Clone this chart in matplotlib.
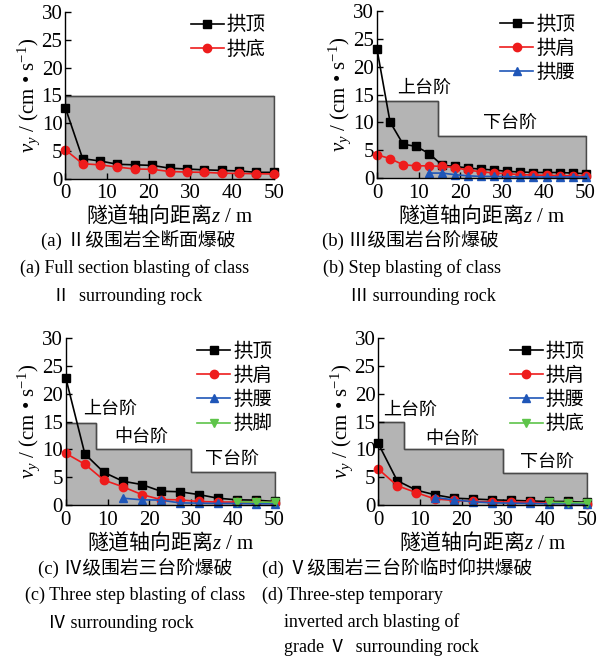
import matplotlib
matplotlib.use("Agg")
import matplotlib.pyplot as plt

plt.rcParams['font.family'] = ['Liberation Serif', 'Noto Sans CJK SC', 'DejaVu Sans']
# math text: serif for latin, sans CJK for the Chinese part of the x label
plt.rcParams['mathtext.fontset'] = 'custom'
plt.rcParams['mathtext.rm'] = 'Liberation Serif'
plt.rcParams['mathtext.it'] = 'Liberation Serif:italic'
plt.rcParams['mathtext.sf'] = 'Noto Sans CJK SC'

# distance along tunnel axis (m)
z_a = [0, 4.17, 8.33, 12.5, 16.67, 20.83, 25, 29.17, 33.33, 37.5, 41.67, 45.83, 50]
z_b = [0, 3.13, 6.25, 9.38, 12.5, 15.63, 18.75, 21.88, 25, 28.13, 31.25, 34.38,
       37.5, 40.63, 43.75, 46.88, 50]
z_cd = [0, 4.55, 9.09, 13.64, 18.18, 22.73, 27.27, 31.82, 36.36, 40.91, 45.45, 50]

# (a) class II, full section
a_crown = [12.8, 3.6, 3.2, 2.6, 2.5, 2.4, 1.9, 1.75, 1.6, 1.5, 1.4, 1.15, 1.15]
a_invert = [5.2, 2.7, 2.5, 2.1, 1.75, 1.7, 1.3, 1.2, 1.15, 1.0, 0.95, 0.9, 0.85]

# (b) class III, two steps
b_crown = [23.2, 10.1, 6.1, 5.7, 4.4, 2.3, 2.1, 1.8, 1.6, 1.45, 1.2, 1.1, 1.0,
           1.0, 1.0, 0.9, 0.8]
b_shoulder = [4.2, 3.5, 2.4, 2.2, 2.2, 2.1, 1.9, 1.4, 1.15, 0.9, 0.8, 0.6, 0.55,
              0.5, 0.45, 0.4, 0.3]
b_waist = [0.9, 0.9, 0.6, 0.4, 0.3, 0.3, 0.25, 0.2, 0.2, 0.2, 0.2, 0.2, 0.2]

# (c) class IV, three steps
c_crown = [22.8, 9.2, 5.9, 4.3, 3.7, 2.5, 2.4, 1.9, 1.25, 0.95, 0.9, 0.65]
c_shoulder = [9.3, 7.35, 4.5, 3.3, 1.9, 1.0, 0.95, 0.65, 0.55, 0.55, 0.5, 0.45]
c_waist = [1.25, 0.95, 0.9, 0.4, 0.35, 0.3, 0.3, 0.25, 0.25]
c_foot = [0.6, 0.55, 0.5]

# (d) class V, three steps with temporary invert
d_crown = [11.1, 4.4, 2.7, 1.85, 1.25, 1.1, 0.95, 0.85, 0.75, 0.65, 0.65, 0.5]
d_shoulder = [6.5, 3.5, 2.25, 1.1, 0.85, 0.65, 0.6, 0.55, 0.5, 0.35, 0.3, 0.25]
d_waist = [1.35, 0.95, 0.6, 0.4, 0.35, 0.3, 0.25, 0.25, 0.2]
d_invert = [0.5, 0.45, 0.4]

# excavation step outlines (edges in m, heights in cm/s)
a_edges, a_steps = [0, 50], [14.8]
b_edges, b_steps = [0, 14.7, 50], [13.9, 7.6]
c_edges, c_steps = [0, 7.1, 29.9, 50], [14.8, 10.1, 6.0]
d_edges, d_steps = [0, 6.3, 29.8, 50], [14.9, 10.1, 5.8]

fig = plt.figure(figsize=(6.10, 6.62), dpi=100)

TICK = 15
LEG = 14
ANN = 13
CAP_CN = 13.5
CAP_EN = 13

BLACK = 'black'
RED = '#ee1c1c'
BLUE = '#1f56b8'
GREEN = '#5ec44a'
EDGE = '#4a4a4a'


def setup(rect, edges, steps):
    ax = fig.add_axes(rect)
    ax.stairs(steps, edges, baseline=0, fill=True, facecolor='#b4b4b4',
              edgecolor=EDGE, lw=1.0, zorder=1)
    ax.stairs(steps, edges, baseline=None, color=EDGE, lw=1.0, zorder=1.5)
    ax.plot([edges[-1], edges[-1]], [0, steps[-1]], color=EDGE, lw=1.0,
            clip_on=False, zorder=1.5)
    ax.set_xlim(0, 50)
    ax.set_ylim(0, 30)
    ax.set_xticks(range(0, 51, 10))
    ax.set_yticks(range(0, 31, 5))
    ax.tick_params(direction='in', length=4, width=1, labelsize=TICK)
    ax.tick_params(axis='x', pad=4)
    ax.tick_params(axis='y', pad=2)
    for s in ('top', 'right'):
        ax.spines[s].set_visible(False)
    for s in ('left', 'bottom'):
        ax.spines[s].set_linewidth(1.0)
        ax.spines[s].set_zorder(5)
    ax.set_xlabel(r'$\mathsf{隧道轴向距离}z$ / m', fontsize=TICK, labelpad=0)
    ax.set_ylabel(r'$v_y$ / (cm • s$^{-1}$)', fontsize=TICK, labelpad=0)
    return ax


def line(ax, x, y, color, marker, label, ms=6):
    ax.plot(x, y, color=color, marker=marker, ms=ms, lw=1.2,
            label=label, clip_on=False, zorder=3)


def legend(ax, anchor):
    ax.legend(loc='upper right', bbox_to_anchor=anchor, frameon=False,
              fontsize=LEG, handlelength=1.7, handletextpad=0.15,
              labelspacing=0.3, borderaxespad=0, borderpad=0)


W = 0.342
H = 0.252

ax = setup([0.107, 0.730, W, H], a_edges, a_steps)
line(ax, z_a, a_crown, BLACK, 's', '拱顶', ms=5.5)
line(ax, z_a, a_invert, RED, 'o', '拱底')
legend(ax, (0.96, 0.975))

ax = setup([0.618, 0.731, W, H], b_edges, b_steps)
line(ax, z_b, b_crown, BLACK, 's', '拱顶', ms=5.5)
line(ax, z_b, b_shoulder, RED, 'o', '拱肩')
line(ax, z_b[4:], b_waist, BLUE, '^', '拱腰')
legend(ax, (0.95, 0.975))
ax.text(11.2, 16.2, '上台阶', fontsize=ANN, ha='center', va='center')
ax.text(32.0, 9.7, '下台阶', fontsize=ANN, ha='center', va='center')

ax = setup([0.108, 0.237, W, H], c_edges, c_steps)
line(ax, z_cd, c_crown, BLACK, 's', '拱顶', ms=5.5)
line(ax, z_cd, c_shoulder, RED, 'o', '拱肩')
line(ax, z_cd[3:], c_waist, BLUE, '^', '拱腰')
line(ax, z_cd[9:], c_foot, GREEN, 'v', '拱脚')
legend(ax, (0.99, 0.975))
ax.text(10.5, 17.2, '上台阶', fontsize=ANN, ha='center', va='center')
ax.text(18.1, 12.2, '中台阶', fontsize=ANN, ha='center', va='center')
ax.text(39.8, 8.1, '下台阶', fontsize=ANN, ha='center', va='center')

ax = setup([0.620, 0.237, W, H], d_edges, d_steps)
line(ax, z_cd, d_crown, BLACK, 's', '拱顶', ms=5.5)
line(ax, z_cd, d_shoulder, RED, 'o', '拱肩')
line(ax, z_cd[3:], d_waist, BLUE, '^', '拱腰')
line(ax, z_cd[9:], d_invert, GREEN, 'v', '拱底')
legend(ax, (0.99, 0.975))
ax.text(7.6, 17.0, '上台阶', fontsize=ANN, ha='center', va='center')
ax.text(17.7, 11.9, '中台阶', fontsize=ANN, ha='center', va='center')
ax.text(40.5, 7.5, '下台阶', fontsize=ANN, ha='center', va='center')


def caption(x, y, s, size, ha='left'):
    fig.text(x / 610, 1 - y / 662, s, fontsize=size, ha=ha, va='center')


# sub-figure captions
caption(138, 240, '(a) Ⅱ级围岩全断面爆破', CAP_CN, ha='center')
caption(20, 268, '(a) Full section blasting of class', CAP_EN)
caption(52, 296, 'Ⅱ  surrounding rock', CAP_EN)

caption(410, 240, '(b) Ⅲ级围岩台阶爆破', CAP_CN, ha='center')
caption(323, 268, '(b) Step blasting of class', CAP_EN)
caption(350, 296, 'Ⅲ surrounding rock', CAP_EN)

caption(38, 568, '(c) Ⅳ级围岩三台阶爆破', CAP_CN)
caption(25, 595, '(c) Three step blasting of class', CAP_EN)
caption(48, 623, 'Ⅳ surrounding rock', CAP_EN)

caption(262, 568, '(d) Ⅴ级围岩三台阶临时仰拱爆破', CAP_CN)
caption(262, 595, '(d) Three-step temporary', CAP_EN)
caption(284, 622, 'inverted arch blasting of', CAP_EN)
caption(284, 648, 'grade Ⅴ  surrounding rock', CAP_EN)

fig.savefig('out.png', dpi=100)
